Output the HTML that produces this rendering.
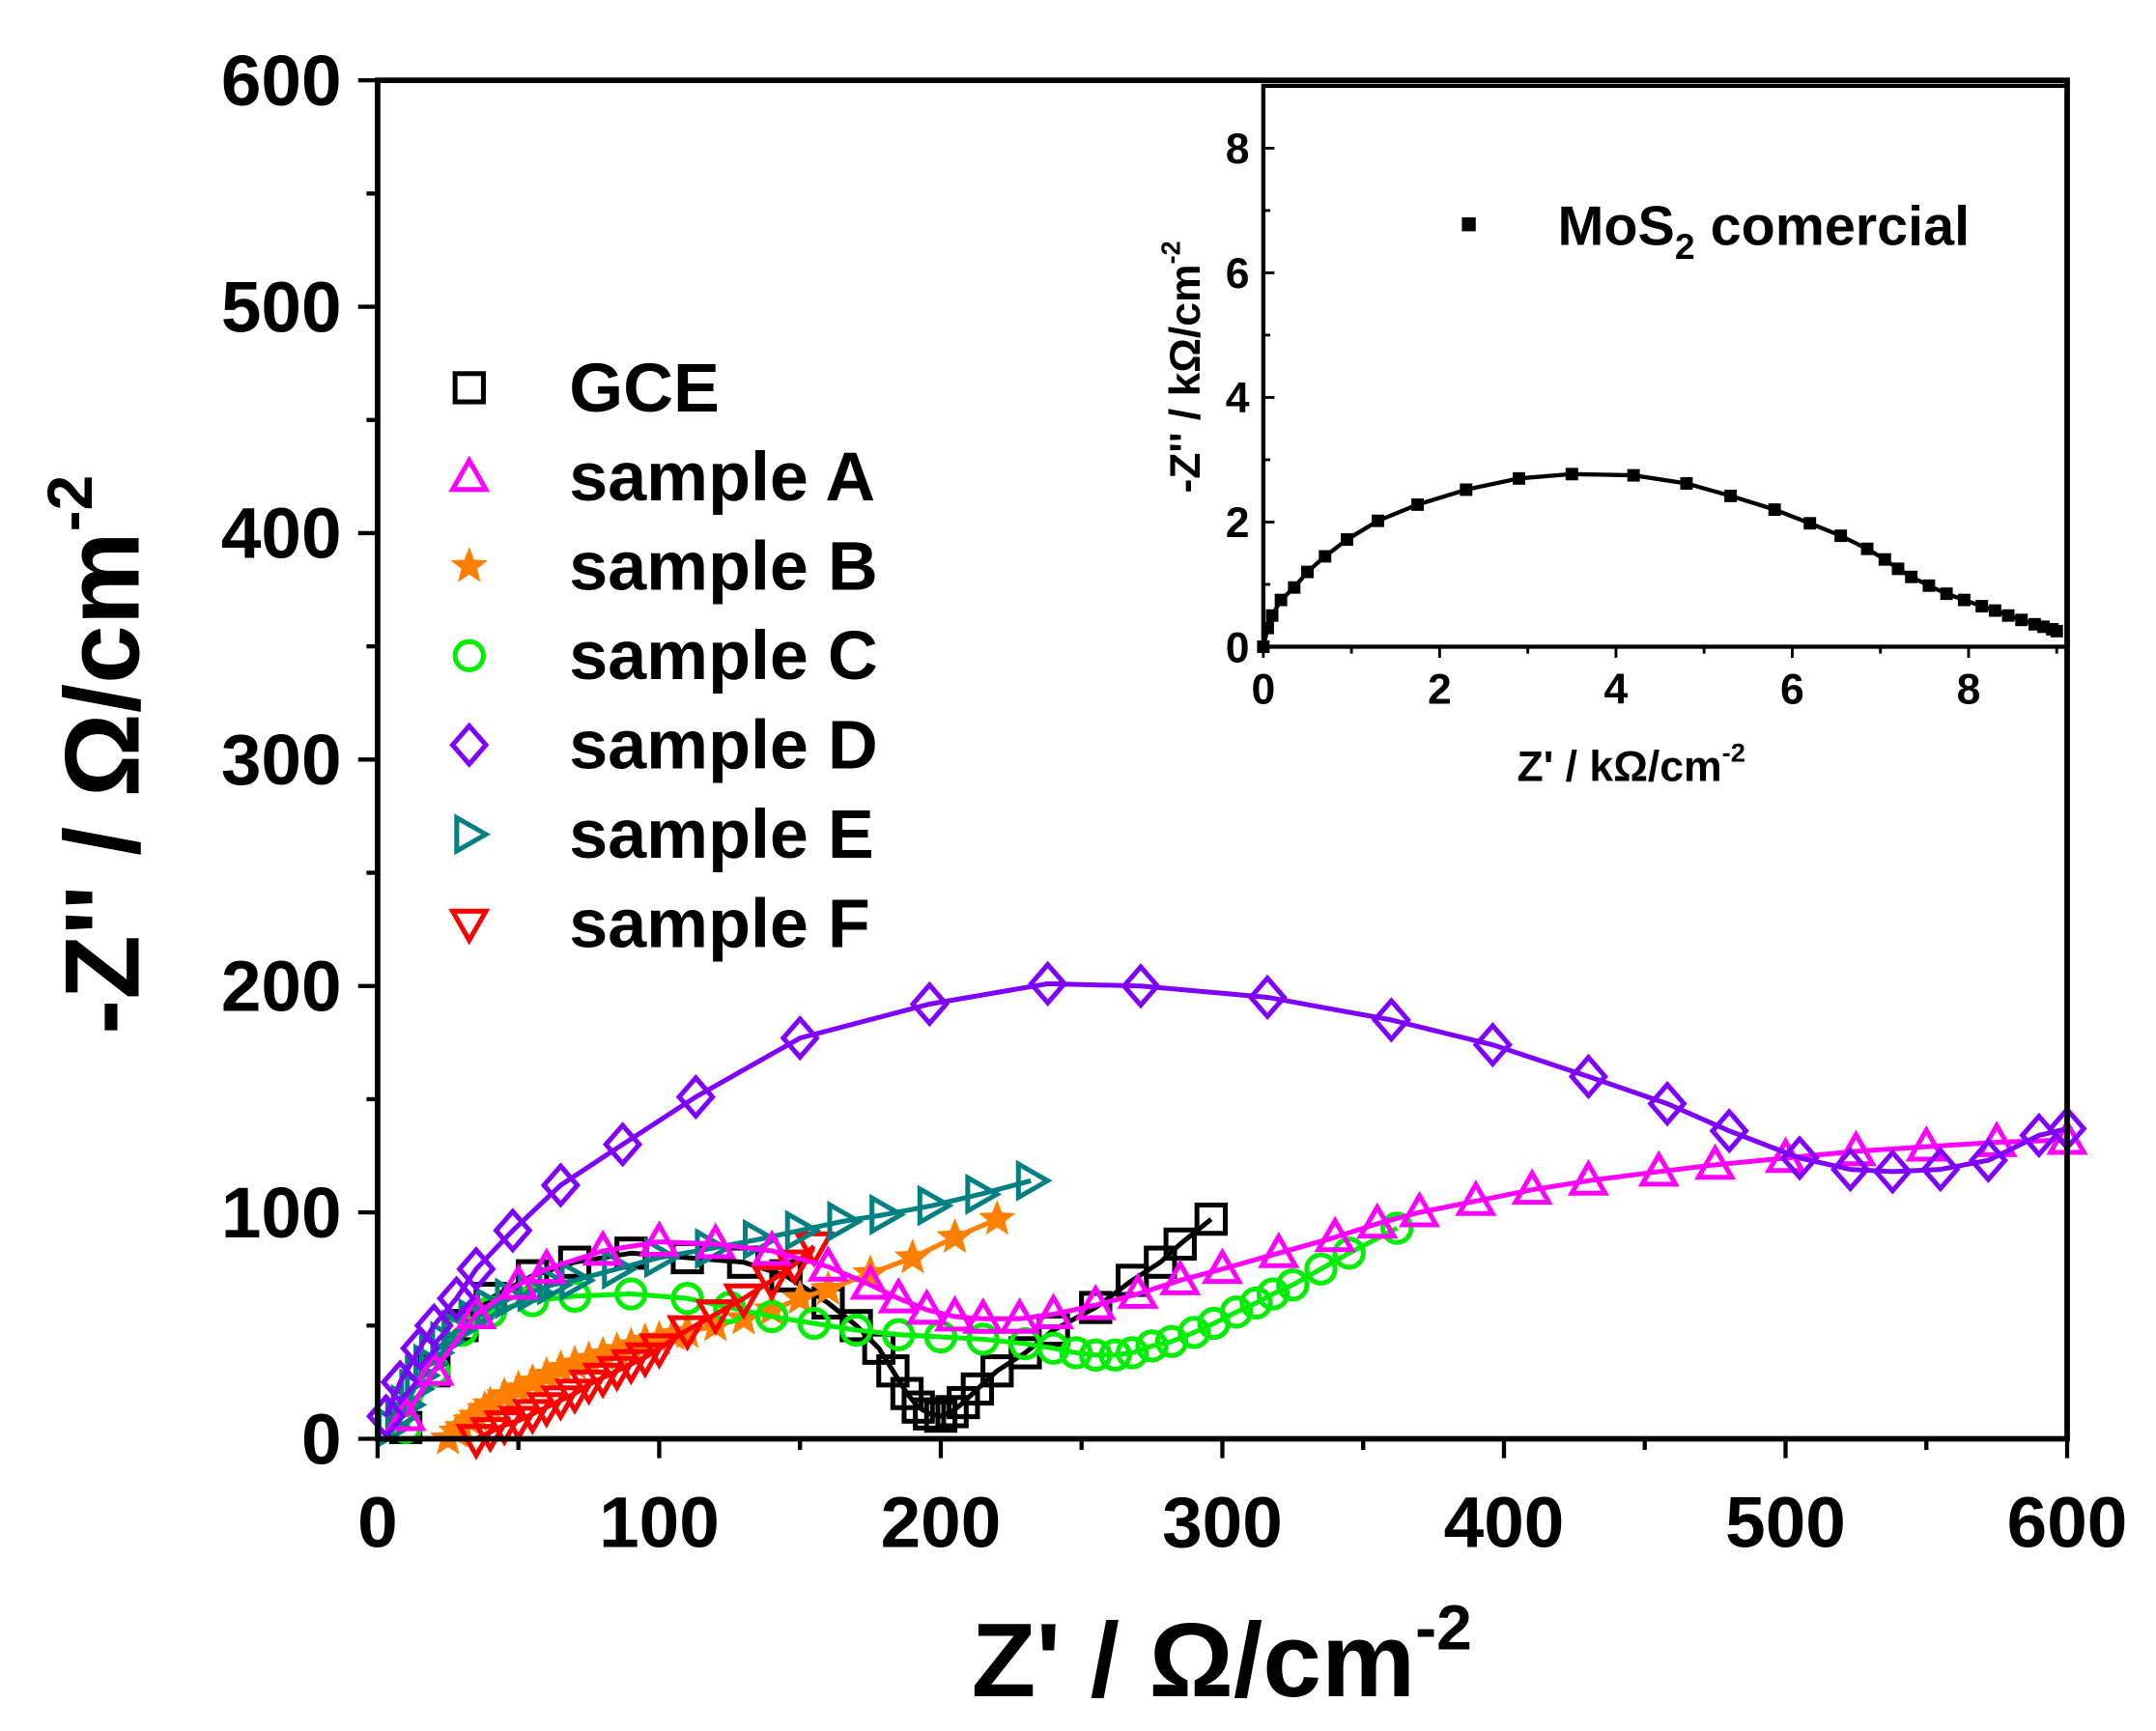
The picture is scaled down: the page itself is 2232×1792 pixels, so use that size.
<!DOCTYPE html>
<html><head><meta charset="utf-8"><style>
html,body{margin:0;padding:0;background:#fff;}
svg{display:block;}
text{font-family:"Liberation Sans",Arial,sans-serif;font-weight:bold;}
</style></head><body>
<svg id="s" width="2232" height="1792" viewBox="0 0 1553 1250" preserveAspectRatio="none" xmlns="http://www.w3.org/2000/svg">
<rect width="1553" height="1250" fill="#fff"/>
<g id="g"></g>
<rect x="272" y="58" width="1217" height="981" fill="none" stroke="#000" stroke-width="4"/>
<rect x="910" y="62" width="579" height="405" fill="none" stroke="#000" stroke-width="3"/>
<g id="ax"></g>
<text x="880" y="1225" font-size="76" text-anchor="middle">Z' / Ω/cm<tspan font-size="46" dy="-34">-2</tspan></text>
<text transform="translate(100,545) rotate(-90)" font-size="76" text-anchor="middle">-Z'' / Ω/cm<tspan font-size="46" dy="-34">-2</tspan></text>
<text x="1175" y="564" font-size="31" text-anchor="middle">Z' / kΩ/cm<tspan font-size="19" dy="-14">-2</tspan></text>
<text transform="translate(864,265) rotate(-90)" font-size="31" text-anchor="middle">-Z'' / kΩ/cm<tspan font-size="19" dy="-14">-2</tspan></text>
<rect x="1053" y="157" width="10" height="10" fill="#000"/>
<text x="1122" y="177" font-size="40">MoS<tspan font-size="26" dy="10">2</tspan><tspan dy="-10"> comercial</tspan></text>
</svg>
<script>
var NS="http://www.w3.org/2000/svg",g=document.getElementById('g'),ax=document.getElementById('ax');
function el(p,t,a,txt){var e=document.createElementNS(NS,t);for(var k in a)e.setAttribute(k,a[k]);if(txt!==undefined)e.textContent=txt;p.appendChild(e);return e;}
var X=function(v){return 272+v*1217/600},Y=function(v){return 1039-v*981/600};
for(var v=0;v<=600;v+=50){var maj=v%100==0;
el(ax,'line',{x1:X(v),x2:X(v),y1:1039,y2:1039+(maj?14:8),stroke:'#000','stroke-width':3});
el(ax,'line',{x1:272,x2:272-(maj?14:8),y1:Y(v),y2:Y(v),stroke:'#000','stroke-width':3});
if(maj){el(ax,'text',{x:X(v),y:1117,'font-size':52,'text-anchor':'middle'},v);
el(ax,'text',{x:246,y:Y(v)+18,'font-size':52,'text-anchor':'end'},v);}}
var IX=function(v){return 910+v*63.5},IY=function(v){return 467-v*45};
for(var v=0;v<=9;v++){var maj=v%2==0;
el(ax,'line',{x1:IX(v),x2:IX(v),y1:467,y2:467+(maj?8:5),stroke:'#000','stroke-width':2});
el(ax,'line',{x1:910,x2:910+(maj?8:5),y1:IY(v),y2:IY(v),stroke:'#000','stroke-width':2});
if(maj){el(ax,'text',{x:IX(v),y:508,'font-size':31,'text-anchor':'middle'},v);
el(ax,'text',{x:900,y:IY(v)+11,'font-size':31,'text-anchor':'end'},v);}}
function mk(p,type,x,y,c,r){r=r||12;var a={fill:'none',stroke:c,'stroke-width':3.5};
if(type=='sq'){a.x=x-r*0.85;a.y=y-r*0.85;a.width=r*1.7;a.height=r*1.7;el(p,'rect',a);}
else if(type=='up'){a.points=[x,y-r,x+r,y+r*0.75,x-r,y+r*0.75].join(' ');el(p,'polygon',a);}
else if(type=='dn'){a.points=[x,y+r,x+r,y-r*0.75,x-r,y-r*0.75].join(' ');el(p,'polygon',a);}
else if(type=='rt'){a.points=[x+r,y,x-r*0.75,y-r,x-r*0.75,y+r].join(' ');el(p,'polygon',a);}
else if(type=='di'){a.points=[x,y-r*1.15,x+r,y,x,y+r*1.15,x-r,y].join(' ');el(p,'polygon',a);}
else if(type=='ci'){a.cx=x;a.cy=y;a.r=r*0.85;el(p,'circle',a);}
else if(type=='st'){var pts=[];for(var i=0;i<10;i++){var rr=i%2?r*0.45:r*1.05,an=-Math.PI/2+i*Math.PI/5;pts.push(x+rr*Math.cos(an),y+rr*Math.sin(an));}a.points=pts.join(' ');a.fill=c;a['stroke-width']=1;el(p,'polygon',a);}
else if(type=='fs'){el(p,'rect',{x:x-4.5,y:y-4.5,width:9,height:9,fill:c});}}
function series(d,type,c,fx,fy){var s='';d.forEach(function(p,i){s+=(i?'L':'M')+fx(p[0])+' '+fy(p[1]);});
el(g,'path',{d:s,fill:'none',stroke:c,'stroke-width':3.5,'stroke-linejoin':'round'});
d.forEach(function(p){mk(g,type,fx(p[0]),fy(p[1]),c);});}
function ms(d,type,c){series(d,type,c,X,Y);}
ms([[10,5],[20,30],[30,50],[40,62],[55,72],[70,78],[90,82],[110,80],[130,78],[145,72],[160,60],[170,50],[178,40],[183,30],[188,20],[192,14],[196,11],[200,10],[204,12],[208,16],[213,22],[220,30],[230,38],[240,48],[255,58],[268,70],[278,78],[285,86],[296,97]],'sq','#000');
ms([[25,0],[28,3],[30,5],[33,8],[35,10],[38,13],[40,15],[45,19],[50,22],[55,25],[60,28],[65,31],[70,33],[75,35],[80,37],[85,39],[90,41],[95,43],[100,44],[105,46],[110,47],[120,50],[130,53],[140,57],[150,62],[160,66],[175,73],[190,80],[205,89],[220,97]],'st','#ff7f00');
ms([[10,5],[20,30],[30,48],[40,56],[55,61],[70,63],[90,64],[110,62],[125,58],[140,54],[155,51],[170,48],[185,46],[200,45],[215,44],[230,42],[240,40],[248,38],[255,37],[262,37],[268,38],[275,41],[282,43],[290,47],[297,51],[305,56],[312,60],[318,64],[325,68],[335,75],[345,82],[362,93]],'ci','#00ee00');
ms([[35,0],[40,3],[45,6],[50,8],[55,11],[60,14],[65,17],[70,20],[75,24],[80,27],[85,30],[90,33],[95,36],[100,40],[110,48],[120,55],[130,62],[140,70],[148,77],[155,85]],'dn','#ff0000');
ms([[5,5],[8,10],[10,15],[13,22],[15,28],[18,33],[20,38],[24,43],[28,48],[34,53],[40,58],[47,62],[55,65],[62,68],[70,70],[85,75],[100,80],[118,84],[135,88],[150,92],[165,96],[180,99],[197,103],[214,108],[232,114]],'rt','#008080');
ms([[10,10],[20,30],[35,55],[50,68],[60,75],[80,83],[100,87],[120,86],[140,83],[160,76],[175,68],[185,62],[195,57],[205,54],[215,53],[228,53],[240,55],[255,59],[270,64],[285,70],[300,75],[320,82],[340,89],[355,95],[370,100],[390,105],[410,110],[430,114],[455,118],[475,121],[500,124],[525,127],[550,129],[575,131],[600,132]],'up','#ff00ff');
ms([[3,10],[8,25],[15,40],[20,50],[28,62],[35,75],[48,92],[65,112],[87,130],[113,151],[150,177],[196,192],[238,201],[271,200],[316,195],[360,185],[396,174],[430,160],[458,148],[480,136],[505,124],[523,119],[538,118],[555,119],[572,123],[590,134],[600,137]],'di','#7f00ff');
var ins=[[0,0],[0.05,0.3],[0.1,0.5],[0.2,0.75],[0.35,0.95],[0.5,1.2],[0.7,1.45],[0.95,1.72],[1.3,2.02],[1.75,2.28],[2.3,2.52],[2.9,2.7],[3.5,2.77],[4.2,2.75],[4.8,2.62],[5.3,2.42],[5.8,2.2],[6.2,1.98],[6.55,1.78],[6.85,1.57],[7.05,1.4],[7.2,1.25],[7.35,1.12],[7.55,0.98],[7.75,0.85],[7.95,0.75],[8.15,0.65],[8.3,0.58],[8.45,0.5],[8.6,0.43],[8.75,0.36],[8.85,0.32],[8.95,0.28],[9.0,0.25]];
var s='';ins.forEach(function(p,i){s+=(i?'L':'M')+IX(p[0])+' '+IY(p[1]);});
el(g,'path',{d:s,fill:'none',stroke:'#000','stroke-width':3});
ins.forEach(function(p){mk(g,'fs',IX(p[0]),IY(p[1]),'#000');});
var L=[['sq','#000','GCE'],['up','#ff00ff','sample A'],['st','#ff7f00','sample B'],['ci','#00ee00','sample C'],['di','#7f00ff','sample D'],['rt','#008080','sample E'],['dn','#ff0000','sample F']];
L.forEach(function(l,i){var y=280+i*64.5;mk(ax,l[0],338,y,l[1]);el(ax,'text',{x:410,y:y+17,'font-size':50},l[2]);});
</script>
</body></html>
